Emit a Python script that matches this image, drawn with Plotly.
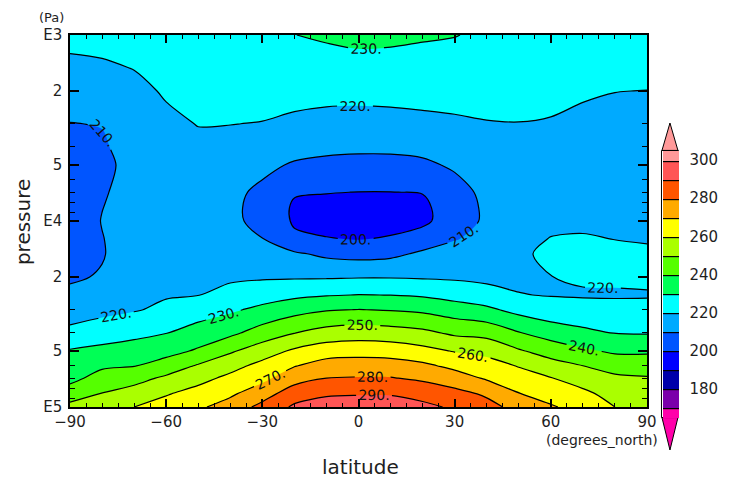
import plotly.graph_objects as go

FONT = "DejaVu Sans"
TEXT = "#1e1e1e"

# ---------------- data ----------------
latitude = [-90, -80, -70, -60, -50, -40, -30, -20, -10, 0, 10, 20, 30, 40, 50, 60, 70, 80, 90]
pressure = [1000, 1500, 2000, 3000, 4000, 5000, 7000, 8500, 10000, 12500, 15000,
            20000, 25000, 30000, 40000, 50000, 60000, 70000, 85000, 100000]

# temperature (K): one profile per latitude, ordered like `pressure`
temperature_by_lat = [
    [223.0, 217.7, 214.4, 209.8, 207.8, 206.8, 206.2, 206.0, 206.2, 206.8, 207.5, 209.2, 211.3, 215.3, 222.5, 230.8, 234.6, 237.3, 244.7, 253.0],  # -90
    [223.5, 218.6, 215.5, 210.3, 209.0, 208.0, 209.4, 209.9, 210.2, 209.8, 209.6, 210.5, 214.3, 217.5, 225.0, 232.7, 238.5, 243.6, 250.5, 254.5],  # -80
    [225.5, 220.3, 217.5, 214.8, 213.3, 212.6, 212.2, 212.2, 212.3, 212.6, 213.2, 214.8, 217.2, 219.3, 227.5, 234.3, 239.6, 246.5, 254.3, 260.0],  # -70
    [228.0, 224.5, 221.0, 218.0, 216.2, 215.2, 214.3, 214.0, 214.0, 214.3, 215.0, 216.8, 219.3, 221.8, 229.8, 236.7, 244.3, 251.8, 259.3, 264.0],  # -60
    [229.0, 226.5, 224.5, 220.3, 218.0, 216.5, 214.8, 214.2, 214.0, 214.2, 215.0, 217.2, 219.8, 225.4, 234.0, 241.3, 251.0, 257.0, 263.5, 268.5],  # -50
    [229.3, 226.5, 224.5, 220.2, 216.5, 214.0, 212.0, 211.5, 211.5, 212.0, 213.5, 218.5, 223.0, 228.5, 237.9, 248.7, 256.8, 262.3, 268.5, 274.0],  # -40
    [229.6, 226.6, 224.5, 219.6, 215.4, 212.0, 208.3, 207.6, 208.0, 210.2, 213.8, 218.9, 225.7, 232.4, 244.4, 255.3, 262.8, 267.6, 275.6, 283.0],  # -30
    [229.9, 225.9, 223.1, 218.2, 213.1, 209.1, 200.8, 198.6, 198.8, 201.8, 211.3, 219.0, 227.9, 236.5, 249.8, 261.6, 269.5, 275.8, 285.7, 291.5],  # -20
    [231.2, 226.3, 222.8, 217.0, 212.1, 207.8, 200.3, 197.5, 196.5, 200.5, 208.0, 219.0, 229.4, 239.3, 253.8, 265.6, 274.0, 280.0, 288.9, 294.0],  # -10
    [232.5, 226.6, 222.8, 216.6, 211.7, 207.3, 199.9, 197.2, 196.2, 199.6, 206.7, 219.4, 230.2, 240.2, 255.3, 266.5, 274.5, 280.6, 289.4, 295.0],  # 0
    [232.0, 226.6, 223.0, 216.9, 211.8, 207.3, 199.9, 197.2, 196.4, 200.9, 207.7, 219.4, 229.9, 239.4, 254.3, 265.9, 274.2, 280.5, 289.4, 294.5],  # 10
    [231.0, 226.4, 223.2, 217.8, 212.7, 208.2, 200.3, 198.0, 197.8, 204.7, 211.6, 219.0, 228.8, 238.1, 252.4, 263.1, 272.1, 278.4, 286.5, 292.5],  # 20
    [230.3, 226.2, 223.2, 218.7, 214.5, 211.3, 206.5, 205.2, 205.5, 209.6, 213.0, 218.6, 226.3, 235.0, 248.3, 259.4, 267.4, 274.7, 283.0, 288.5],  # 30
    [228.5, 225.5, 223.2, 219.6, 216.5, 214.5, 212.3, 211.6, 211.5, 212.2, 213.5, 217.5, 224.0, 232.0, 246.9, 257.2, 264.0, 268.8, 278.7, 283.0],  # 40
    [228.0, 225.5, 223.5, 219.8, 217.3, 216.0, 215.5, 215.8, 216.3, 217.5, 218.8, 218.4, 220.3, 227.0, 240.6, 251.1, 259.4, 264.2, 270.4, 277.0],  # 50
    [228.0, 225.5, 223.0, 219.2, 217.3, 216.2, 215.8, 216.5, 218.0, 220.3, 221.5, 219.9, 219.6, 223.7, 235.8, 245.8, 254.0, 260.4, 266.3, 271.0],  # 60
    [226.0, 223.2, 220.8, 218.5, 217.0, 216.0, 215.8, 216.8, 218.2, 220.8, 222.0, 221.0, 219.2, 223.4, 232.1, 241.7, 250.0, 255.5, 262.3, 266.5],  # 70
    [225.0, 222.5, 220.1, 218.0, 216.8, 216.0, 215.7, 216.3, 217.5, 219.9, 221.5, 221.2, 219.2, 222.6, 229.8, 238.5, 246.1, 251.9, 256.4, 260.0],  # 80
    [225.0, 222.4, 219.9, 217.8, 216.7, 216.0, 215.7, 216.2, 217.3, 219.4, 221.2, 221.5, 219.4, 222.2, 229.4, 238.6, 245.3, 250.8, 254.5, 257.0],  # 90
]

level_start, level_end, level_step = 170, 300, 10
over_color, under_color = "#FF9999", "#FF00AA"
band_colors = [under_color, "#7A00AA", "#0000AA", "#0000FF", "#0055FF", "#00AAFF", "#00FFFF",
               "#00FF55", "#55FF00", "#AAFF00", "#FFFF00", "#FFAA00", "#FF5500", "#FF5555", over_color]
colorbar_ticks = [180, 200, 220, 240, 260, 280, 300]

x_ticks = [-90, -60, -30, 0, 30, 60, 90]
y_ticks = [1000, 2000, 5000, 10000, 20000, 50000, 100000]
y_ticktext = ["E3", "2", "5", "E4", "2", "5", "E5"]
y_minor = [3000, 4000, 6000, 7000, 8000, 9000, 30000, 40000, 60000, 70000, 80000, 90000]

# ---------------- layout geometry (page pixels) ----------------
PAGE_W, PAGE_H = 730, 483
OFF = 8                                 # default body margin of the page
W, H = PAGE_W - OFF, PAGE_H - OFF
L, R, T, B = 70, 648, 35, 407           # plot area in page pixels


def px(x):
    return (x - L) / (R - L)


def py(y):
    return (B - y) / (B - T)


cb_left, cb_right = 663, 679
cb_top, cb_bot = 160, 408                # levels 300 and 170
unit = (cb_bot - cb_top) / (level_end - level_start)
half = unit * level_step / 2
cb_len = (cb_bot - cb_top) + 2 * half    # colourbar axis spans 165..305

n = len(band_colors) - 1
colorscale = [[i / n, c] for i, c in enumerate(band_colors)]

fig = go.Figure(go.Contour(
    x=latitude, y=pressure, z=temperature_by_lat, transpose=True,
    autocontour=False,
    contours=dict(start=level_start, end=level_end, size=level_step, coloring="fill",
                  showlabels=True, labelformat="$.0f",
                  labelfont=dict(family=FONT, size=14, color="#101010")),
    line=dict(color="black", width=1.2, smoothing=0.9),
    colorscale=colorscale,
    hoverinfo="skip",
    colorbar=dict(
        thickness=cb_right - cb_left, thicknessmode="pixels",
        len=cb_len, lenmode="pixels",
        x=px(cb_left), xanchor="left", xpad=0,
        y=py(cb_bot + half), yanchor="bottom", ypad=0,
        outlinewidth=0,
        tickmode="array", tickvals=colorbar_ticks,
        ticks="outside", ticklen=8, tickcolor="rgba(0,0,0,0)",
        tickfont=dict(family=FONT, size=15, color=TEXT),
    ),
))

axis_common = dict(showline=True, linecolor="black", linewidth=1.5, mirror="allticks",
                   ticks="inside", tickcolor="black", tickwidth=1.5, showgrid=False,
                   zeroline=False, tickfont=dict(family=FONT, size=15, color=TEXT))

fig.update_xaxes(range=[-90, 90], tickmode="array", tickvals=x_ticks, ticklen=8,
                 minor=dict(ticks="inside", dtick=5, tick0=0, ticklen=4, tickcolor="black",
                            tickwidth=1.2, showgrid=False),
                 ticklabelstandoff=0, **axis_common)
fig.update_yaxes(type="log", range=[5, 3], tickmode="array", tickvals=y_ticks,
                 ticktext=y_ticktext, ticklen=9,
                 minor=dict(ticks="inside", tickmode="array", tickvals=y_minor, ticklen=5,
                            tickcolor="black", tickwidth=1.2, showgrid=False),
                 ticklabelstandoff=3, **axis_common)

# colourbar end arrows + frame
mid = (cb_left + cb_right) / 2
tri_top = (f"M {px(cb_left)} {py(cb_top - half)} L {px(cb_right)} {py(cb_top - half)} "
           f"L {px(mid)} {py(123)} Z")
tri_bot = (f"M {px(cb_left)} {py(cb_bot + half)} L {px(cb_right)} {py(cb_bot + half)} "
           f"L {px(mid)} {py(450)} Z")
shapes = [
    dict(type="path", path=tri_top, xref="paper", yref="paper", fillcolor=over_color,
         line=dict(color="black", width=1), layer="above"),
    dict(type="path", path=tri_bot, xref="paper", yref="paper", fillcolor=under_color,
         line=dict(color="black", width=1), layer="above"),
    dict(type="rect", xref="paper", yref="paper", x0=px(cb_left - 0.5), x1=px(cb_right + 0.5),
         y0=py(cb_bot + half), y1=py(cb_top - half), line=dict(color="black", width=1),
         layer="above"),
]

annotations = [
    dict(text="(Pa)", x=px(51), y=py(OFF + 1), xref="paper", yref="paper", showarrow=False,
         font=dict(family=FONT, size=13, color=TEXT), xanchor="center", yanchor="top",
         borderpad=0),
    dict(text="(degrees_north)", x=px(603), y=py(440), xref="paper", yref="paper",
         showarrow=False, font=dict(family=FONT, size=14, color=TEXT),
         xanchor="center", yanchor="middle"),
    dict(text="latitude", x=px(361), y=py(467), xref="paper", yref="paper", showarrow=False,
         font=dict(family=FONT, size=20, color=TEXT), xanchor="center", yanchor="middle"),
    dict(text="pressure", x=px(23), y=py(222), xref="paper", yref="paper", showarrow=False,
         textangle=-90, font=dict(family=FONT, size=20, color=TEXT),
         xanchor="center", yanchor="middle"),
]

fig.update_layout(
    width=W, height=H,
    margin=dict(l=L - OFF, r=W - (R - OFF), t=T - OFF, b=H - (B - OFF), pad=0),
    paper_bgcolor="white", plot_bgcolor="white",
    font=dict(family=FONT, color=TEXT),
    shapes=shapes, annotations=annotations,
    showlegend=False,
)

fig.write_html("out.html", config={
    "displayModeBar": False,
    "locale": "xx",
    "locales": {"xx": {"format": {"currency": ["", "."]}}},
})
